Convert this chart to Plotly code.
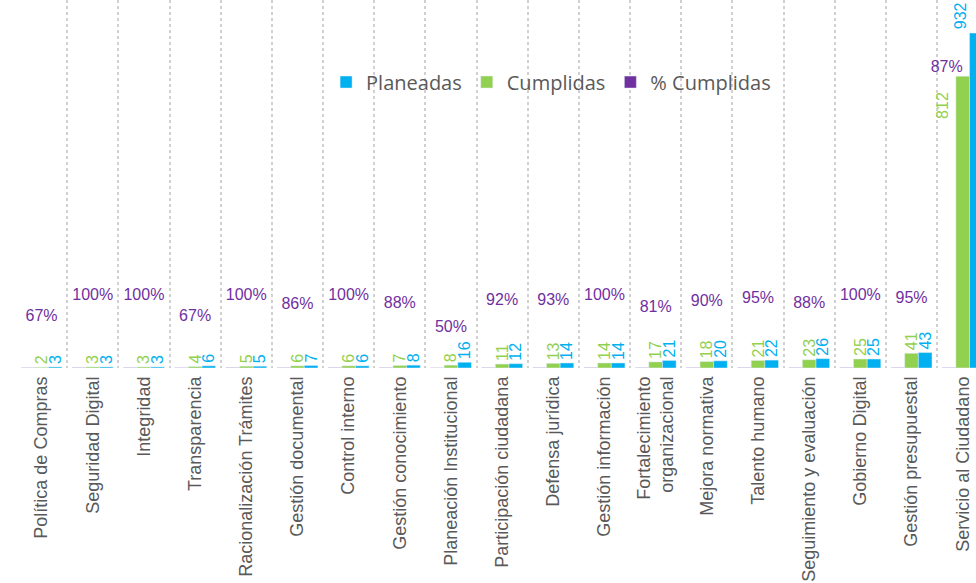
import plotly.graph_objects as go

categorias = [
    "Política de Compras", "Seguridad Digital", "Integridad", "Transparencia",
    "Racionalización Trámites", "Gestión documental", "Control interno",
    "Gestión conocimiento", "Planeación Institucional", "Participación ciudadana",
    "Defensa jurídica", "Gestión información", "Fortalecimiento<br>organizacional",
    "Mejora normativa", "Talento humano", "Seguimiento y evaluación",
    "Gobierno Digital", "Gestión presupuestal", "Servicio al Ciudadano",
]
planeadas = [3, 3, 3, 6, 5, 7, 6, 8, 16, 12, 14, 14, 21, 20, 22, 26, 25, 43, 932]
cumplidas = [2, 3, 3, 4, 5, 6, 6, 7, 8, 11, 13, 14, 17, 18, 21, 23, 25, 41, 812]
pct_cumplidas = [0.67, 1.00, 1.00, 0.67, 1.00, 0.86, 1.00, 0.88, 0.50, 0.92,
                 0.93, 1.00, 0.81, 0.90, 0.95, 0.88, 1.00, 0.95, 0.87]

AZUL = "#00b0f0"
VERDE = "#92d050"
MORADO = "#7030a0"
GRIS = "#595959"

# altura de las etiquetas de porcentaje
k = 178
grande = [c > p * k for c, p in zip(cumplidas, pct_cumplidas)]

fig = go.Figure()

fig.add_trace(go.Bar(
    x=categorias, y=pct_cumplidas, name="% Cumplidas",
    marker_color=MORADO, hoverinfo="skip",
))
fig.add_trace(go.Bar(
    x=categorias, y=cumplidas, name="Cumplidas",
    marker_color=VERDE,
    text=["" if g else str(c) for c, g in zip(cumplidas, grande)],
    textposition="outside", textangle=-90,
    textfont=dict(color=VERDE, size=16, family="Liberation Sans"),
    constraintext="none", cliponaxis=False,
))
fig.add_trace(go.Bar(
    x=categorias, y=planeadas, name="Planeadas",
    marker_color=AZUL,
    text=["" if g else str(v) for v, g in zip(planeadas, grande)],
    textposition="outside", textangle=-90,
    textfont=dict(color=AZUL, size=16, family="Liberation Sans"),
    constraintext="none", cliponaxis=False,
))

pos_y = [max(c, p * k) for c, p in zip(cumplidas, pct_cumplidas)]
pos_txt = ["top left" if g else "top center" for g in grande]
fig.add_trace(go.Scatter(
    x=categorias, y=pos_y, mode="text",
    text=[f"{round(p * 100)}%" for p in pct_cumplidas],
    textposition=pos_txt,
    textfont=dict(color=MORADO, size=16, family="Liberation Sans"),
    showlegend=False, hoverinfo="skip", cliponaxis=False,
))

# las barras altas (al borde derecho) llevan la etiqueta a un costado
for cat, c, v, g in zip(categorias, cumplidas, planeadas, grande):
    if g:
        fig.add_annotation(
            x=cat, y=c, text=str(c), showarrow=False, textangle=-90,
            xanchor="right", yanchor="top", xshift=-10, yshift=-14,
            font=dict(color=VERDE, size=16, family="Liberation Sans"),
        )
        fig.add_annotation(
            x=cat, y=v, text=str(v), showarrow=False, textangle=-90,
            xanchor="center", yanchor="bottom", xshift=-2, yshift=2,
            font=dict(color=AZUL, size=16, family="Liberation Sans"),
        )

fig.update_layout(
    width=976, height=583,
    margin=dict(l=16, r=0, t=0, b=215),
    plot_bgcolor="white", paper_bgcolor="white",
    barmode="group", bargap=0.2, bargroupgap=0,
    font=dict(family="Liberation Sans", color=GRIS),
    legend=dict(
        orientation="h", traceorder="reversed",
        x=0.323, y=0.83, xanchor="left", yanchor="top",
        font=dict(family="Open Sans", size=20, color=GRIS),
        itemwidth=30, bgcolor="rgba(0,0,0,0)",
    ),
    showlegend=True,
)
fig.update_xaxes(
    type="category", range=[-0.5, 18.26], automargin=False,
    tickson="boundaries", showgrid=True, gridcolor="#d0d0d0",
    griddash="dot", gridwidth=1.5,
    tickangle=-90, tickfont=dict(size=18, color=GRIS, family="Liberation Sans"),
    ticks="", ticklabelstandoff=4,
    showline=False, zeroline=False,
)
fig.update_yaxes(
    range=[0, 1024], visible=False, showgrid=False, zeroline=False,
    automargin=False,
)

fig.write_html("out.html", config={"displayModeBar": False},
               post_script="document.body.style.margin = '0';")
